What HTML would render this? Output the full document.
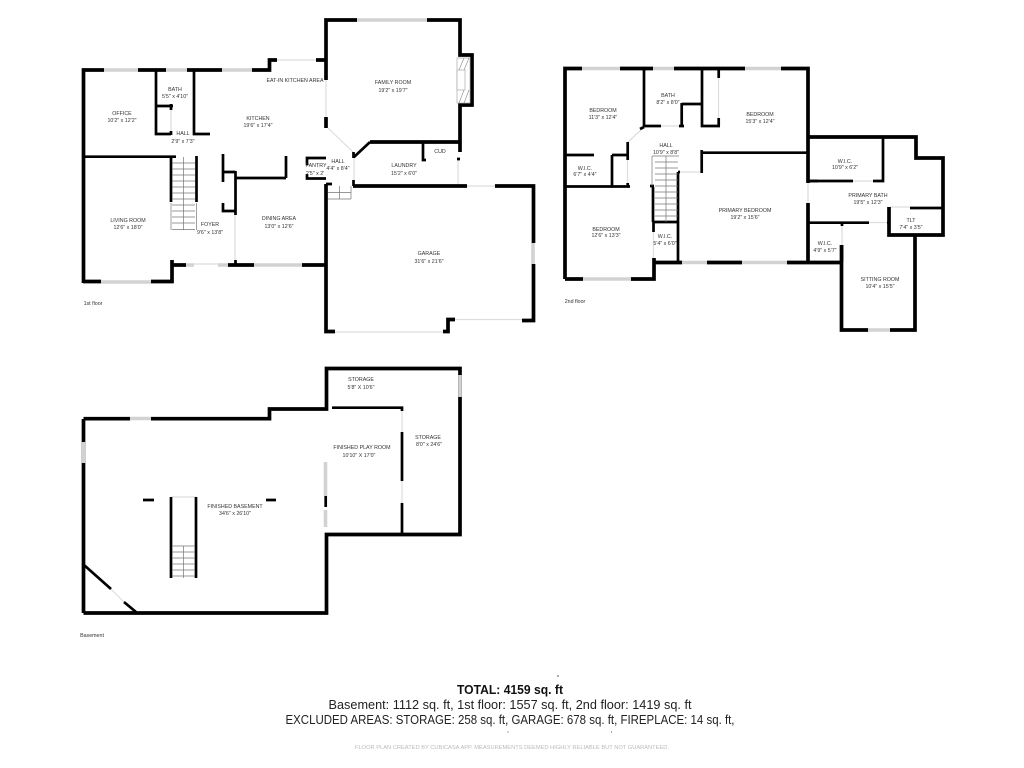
<!DOCTYPE html>
<html><head><meta charset="utf-8"><style>
html,body{margin:0;padding:0;background:#fff}
svg{display:block;filter:blur(.35px)}
text{font-family:"Liberation Sans",sans-serif}
.l text{font-size:5.300px;fill:#333;text-anchor:middle}
.w path{fill:none;stroke:#000;stroke-width:3.7}
.t path{fill:none;stroke:#000;stroke-width:2.7}
.d path{fill:none;stroke:#ddd;stroke-width:1.200}
.g path{fill:none;stroke:#d2d2d2;stroke-width:3.600}
.s path{fill:none;stroke:#777;stroke-width:.7}
</style></head><body>
<svg width="1024" height="768" viewBox="0 0 1024 768" xmlns="http://www.w3.org/2000/svg">
<rect width="1024" height="768" fill="#fff"/>
<g class="d"><path d="M277 60H316M326 80V117M328 128L353 152M354 157V180M458 159V184M467 186H495M335 332H443M455 319.500H522M171 110V131M235 215V260M194 264H218"/>
<path d="M644 127L628 142M661 126H680M718.500 78V118M627.500 160V183M680 172H700M653.500 232V258M853 181H873M869 222.500H887M842 226V245M890 207H910M808 183V203M171 497H196M402 411V432M402 481V503M124 602L111 589"/></g>
<g class="w">
<path d="M83.500 283V70H104M138 70H166M187 70H222M252 70H269.500V60H277M316 60H326"/>
<path d="M83 281.500H101M151 281.500H172V260M172 265H186M228 265H254M302 265H326"/>
<path d="M326 80V20H357M427 20H460V55H472V105H460V152M326 117V128"/>
<path d="M370 142H460M353 186H467M495 186H533.500V243M533.500 264V320.500H522"/>
<path d="M326 184V331.500H335M443 331.500H448V319.500H455"/>
<path d="M565 279V68.500H582M620 68.500H653M674 68.500H745M781 68.500H808V183M808 203V262.500"/>
<path d="M565 279H583M631 279H654V258M654 262.500H682M707 262.500H742M787 262.500H841.500M841.500 245V330H868M890 330H915V235"/>
<path d="M808 137H916V158H943V235H889V207"/>
<path d="M83.500 613V419M83.500 418.700H130M151 418.700H269.500V409H326.500V368.500H460V534.500H326.500V613H83.500"/>
</g>
<g class="t">
<path d="M84 156.700H176M156 70V134H171M156 106H173M171 104V110M171 131V135M194 70V134H210"/>
<path d="M171 156V202M196.500 156V202M223 154V182M223 172H235.500M235.500 171V215M235.500 178H286M286 156V178M223 203V211H235.500M235.500 260V265"/>
<path d="M326 158H307V165M307 174V178.500H326M353.500 152V158M353.500 180V186M370 142L354 157M423 142V160H426M457 159H460"/>
<path d="M326 184H332M644 68V126H661M679 126H684M681.700 103V126M681.700 104H702M702 68V126H720M718.700 68V78M718.700 118V126"/>
<path d="M644 127L640 129M627.700 142V160M612 155H628M612 155V187M565 186.500H630M565 155H594M627.700 183V187"/>
<path d="M653 187V222M650 186H654M678 172V262M653 222H678M653.500 222V232M701.700 150V173M702 152.700H808M808 181H818M808 137V183M680 172H678"/>
<path d="M883 137V181H873M808 181H853M808 222.700H869M887 222.700H889M842 222V226M842 245V262M910 208H943"/>
<path d="M332 407.700H402V411M402 432V481M402 503V534M171 497V578M196 497V578M84 565L111 589M124 602L136 612"/>
<path d="M325.700 496V507" stroke-width="3.500"/>
<path d="M143 500H154M266 500H276" stroke-width="3.500"/>
</g>
<g class="g"><path d="M104 70H138M166 70H187M222 70H252M357 20H427M101 282H151M186 265H194M218 265H228M254 265H302M533 243V264M582 68.500H620M653 68.500H674M745 68.500H781M583 279H631M682 262.500H707M742 262.500H787M868 330H890M130 418.500H151M83.500 442V463M460 375V397"/><path d="M325.500 462V496M325.500 510V527" stroke-width="2"/></g>
<g class="s">
<path d="M172 163H195M172 169H195M172 175H195M172 181H195M172 187H195M172 193H195M172 199H195M172 205H195M172 211H195M172 217H195M172 223H195M172 229.500H195M183.500 157V230M171 203V230M196.500 203V230"/>
<path d="M328 192.500H351M328 199H351M351 186V199M339.500 186V199"/>
<path d="M652 156H679M652 156V186M655 162H678M655 168H678M655 174H678M655 180H678M655 186H678M655 192H678M655 198H678M655 204H678M655 210H678M655 216H678M666 156V222"/>
<path d="M172 546H195M172 552H195M172 558H195M172 564H195M172 570H195M172 576H195M183.500 546V578"/>
</g>
<rect x="457" y="58" width="13" height="45" fill="#fff" stroke="#aaa" stroke-width=".7"/>
<path d="M459 70L464 58M464 70L469 58M459 103L464 90M464 103L469 90" stroke="#888" stroke-width=".6" fill="none"/>
<rect x="457" y="70" width="8" height="20" fill="#fff" stroke="#aaa" stroke-width=".7"/>
<g class="l">
<text x="122" y="115">OFFICE</text><text x="122" y="122">10'2" x 12'2"</text>
<text x="175" y="91">BATH</text><text x="175" y="98">5'5" x 4'10"</text>
<text x="183" y="135">HALL</text><text x="183" y="143">2'9" x 7'3"</text>
<text x="258" y="120">KITCHEN</text><text x="258" y="127">19'6" x 17'4"</text>
<text x="295" y="82" fill="#111">EAT-IN KITCHEN AREA</text>
<text x="393" y="84">FAMILY ROOM</text><text x="393" y="92">19'2" x 19'7"</text>
<text x="128" y="222">LIVING ROOM</text><text x="128" y="229">12'6" x 18'0"</text>
<text x="210" y="226">FOYER</text><text x="210" y="234">9'6" x 13'8"</text>
<text x="279" y="220">DINING AREA</text><text x="279" y="228">13'0" x 12'6"</text>
<text x="316" y="167">PANTRY</text><text x="315" y="175">2'5" x 2'</text>
<text x="338" y="163">HALL</text><text x="338" y="170">4'4" x 8'4"</text>
<text x="404" y="167">LAUNDRY</text><text x="404" y="175">15'2" x 6'0"</text>
<text x="440" y="153">CUD</text>
<text x="429" y="255">GARAGE</text><text x="429" y="263">31'6" x 21'6"</text>
<text x="603" y="112">BEDROOM</text><text x="603" y="119">11'3" x 12'4"</text>
<text x="668" y="97">BATH</text><text x="668" y="104">8'2" x 8'0"</text>
<text x="760" y="116">BEDROOM</text><text x="760" y="123">15'3" x 12'4"</text>
<text x="666" y="147">HALL</text><text x="666" y="154">10'9" x 8'8"</text>
<text x="585" y="170">W.I.C.</text><text x="585" y="176">6'7" x 4'4"</text>
<text x="606" y="231">BEDROOM</text><text x="606" y="237">12'6" x 13'3"</text>
<text x="745" y="212">PRIMARY BEDROOM</text><text x="745" y="219">19'2" x 15'6"</text>
<text x="665" y="238">W.I.C.</text><text x="665" y="245">5'4" x 6'0"</text>
<text x="845" y="163">W.I.C.</text><text x="845" y="169">10'9" x 6'2"</text>
<text x="868" y="197">PRIMARY BATH</text><text x="868" y="204">19'5" x 12'3"</text>
<text x="911" y="222">TLT</text><text x="911" y="229">7'4" x 3'5"</text>
<text x="825" y="245">W.I.C.</text><text x="825" y="252">4'9" x 5'7"</text>
<text x="880" y="281">SITTING ROOM</text><text x="880" y="288">10'4" x 15'5"</text>
<text x="361" y="381">STORAGE</text><text x="361" y="389">5'8" X 10'6"</text>
<text x="362" y="449">FINISHED PLAY ROOM</text><text x="359" y="457">10'10" X 17'0"</text>
<text x="428" y="439">STORAGE</text><text x="429" y="446">8'0" x 24'6"</text>
<text x="235" y="508">FINISHED BASEMENT</text><text x="235" y="515">34'6" x 26'10"</text>
<text x="93" y="305">1st floor</text><text x="575" y="303">2nd floor</text><text x="92" y="637">Basement</text>
</g>
<text x="510" y="694" text-anchor="middle" font-size="13" font-weight="bold" fill="#111" textLength="106" lengthAdjust="spacingAndGlyphs">TOTAL: 4159 sq. ft</text>
<text x="510" y="709" text-anchor="middle" font-size="13" fill="#222" textLength="363" lengthAdjust="spacingAndGlyphs">Basement:  1112 sq. ft, 1st floor: 1557  sq. ft, 2nd floor: 1419 sq. ft</text>
<text x="510" y="724" text-anchor="middle" font-size="13" fill="#222" textLength="449" lengthAdjust="spacingAndGlyphs">EXCLUDED AREAS: STORAGE: 258 sq. ft, GARAGE:  678 sq. ft, FIREPLACE: 14 sq. ft,</text>
<text x="512" y="749" text-anchor="middle" font-size="5.500" fill="#bbb" textLength="314" lengthAdjust="spacingAndGlyphs">FLOOR PLAN CREATED BY CUBICASA APP. MEASUREMENTS DEEMED HIGHLY RELIABLE BUT NOT GUARANTEED.</text>
<path d="M557 676h2M507.500 732h1M611 732h1" stroke="#555" stroke-width="1"/>
</svg>
</body></html>
